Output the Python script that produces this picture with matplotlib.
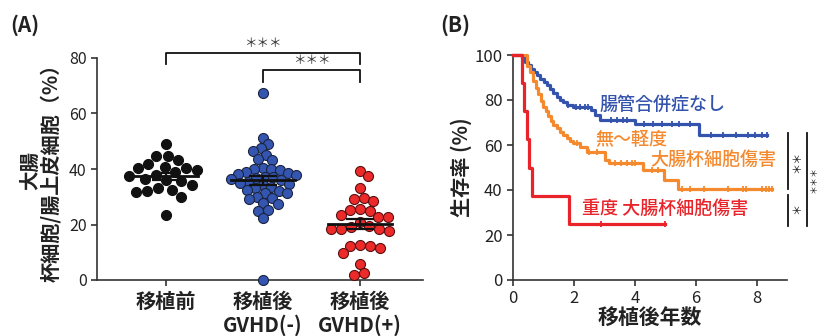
import numpy as np
import matplotlib
matplotlib.use("Agg")
import matplotlib.pyplot as plt

plt.rcParams['font.family'] = ['Noto Sans CJK JP', 'DejaVu Sans']

# ---------------- data: panel A ----------------
groups = ["移植前", "移植後\nGVHD(-)", "移植後\nGVHD(+)"]
pre_vals = [48.9, 44.8, 44.8, 43.2, 41.7, 40.8, 40.2, 40.2, 39.5, 39.0, 38.0,
            37.5, 36.5, 36.0, 35.5, 34.2, 33.0, 32.4, 32.1, 31.6, 30.0, 23.4]
gvhd_neg_vals = [67.5, 51.3, 48.9, 47.5, 46.5, 45.0, 43.5, 43.2, 40.2, 40.0,
                 39.9, 39.6, 39.0, 38.4, 38.1, 37.8, 37.2, 37.0, 36.6, 36.4,
                 36.0, 35.4, 35.0, 34.6, 34.2, 33.5, 33.0, 32.4, 32.0, 31.2,
                 31.2, 30.0, 29.5, 29.3, 27.6, 27.4, 25.2, 25.0, 22.2, 0.0]
gvhd_pos_vals = [39.4, 37.5, 33.0, 29.7, 28.5, 29.2, 25.6, 24.9, 25.2, 22.8,
                 22.6, 23.4, 20.8, 19.2, 18.4, 17.7, 18.4, 18.4, 19.6, 12.3,
                 11.7, 12.3, 12.6, 9.8, 5.7, 1.8, 2.4]
a_yticks = [0, 20, 40, 60, 80]

# ---------------- data: panel B (Kaplan-Meier steps) ----------------
blue_t = [0, 0.30, 0.40, 0.50, 0.60, 0.70, 0.80, 0.90, 1.00, 1.10, 1.20, 1.32,
          1.43, 1.54, 1.65, 1.76, 1.98, 2.55, 2.70, 2.85, 4.00, 6.10, 8.32]
blue_s = [100, 98.5, 97, 95.5, 94, 92.5, 91, 89.5, 88, 86.5, 85, 83,
          81.5, 80, 79, 78, 77, 75.5, 73.5, 71.2, 69.5, 64.4, 64.4]
blue_cens = [1.80, 2.05, 2.20, 2.35, 2.45, 3.20, 3.40, 3.60, 3.75, 4.30, 4.60,
             4.90, 5.20, 5.45, 5.80, 6.50, 6.90, 7.30, 7.70, 7.95, 8.15, 8.32]

orange_t = [0, 0.45, 0.56, 0.67, 0.75, 0.83, 0.91, 0.99, 1.08, 1.16, 1.24, 1.32,
            1.43, 1.54, 1.65, 1.76, 1.87, 1.98, 2.20, 2.42, 3.00, 3.15, 4.25,
            4.95, 5.40, 8.48]
orange_s = [100, 95, 92.5, 88.5, 85.5, 82.5, 79.5, 77, 75, 72.8, 70.8, 69,
            67.5, 66, 64.5, 63, 61.8, 60.7, 59.3, 57, 53.5, 52.2, 49.0,
            44.6, 40.5, 40.5]
orange_cens = [2.10, 2.50, 2.75, 3.35, 3.55, 3.75, 3.90, 4.00, 4.55, 4.75, 5.55,
               5.80, 6.25, 7.05, 7.55, 7.65, 8.15, 8.30, 8.40, 8.48]

red_t = [0, 0.30, 0.36, 0.45, 0.53, 0.61, 1.85, 4.98]
red_s = [100, 87.5, 75, 62.5, 50, 37.5, 25, 25]
red_cens = [2.90, 4.98]
b_xticks = [0, 2, 4, 6, 8]
b_yticks = [0, 20, 40, 60, 80, 100]

# ---------------- figure ----------------
W, H = 818, 336
fig = plt.figure(figsize=(W / 100, H / 100), dpi=100)

def px_axes(l, t, r, b):
    return fig.add_axes([l / W, (H - b) / H, (r - l) / W, (b - t) / H])

AX_COL = '#333333'
TXT_COL = '#222222'

def style(ax):
    for s in ['top', 'right']:
        ax.spines[s].set_visible(False)
    for s in ['left', 'bottom']:
        ax.spines[s].set_color(AX_COL)
        ax.spines[s].set_linewidth(1.2)
    ax.tick_params(direction='out', length=4, width=1.2, color=AX_COL,
                   labelcolor=TXT_COL)

# ---------------- panel A ----------------
axA = px_axes(97, 58, 423, 280)
style(axA)
axA.set_xlim(-0.71, 2.65)
axA.set_ylim(0, 80)
axA.set_yticks(a_yticks)
axA.set_yticklabels([str(v) for v in a_yticks], fontsize=11.5)
axA.set_xticks(range(len(groups)))
axA.set_xticklabels(groups, fontsize=14.5, fontweight='bold', linespacing=1.12)
axA.tick_params(axis='x', pad=4)

y_px_per_unit = 222 / 80.0
x_px_per_unit = 97.0

def swarm(vals, d):
    placed = []
    offs = np.zeros(len(vals))
    order = np.argsort(-np.asarray(vals))
    for i in order:
        y = vals[i] * y_px_per_unit
        cands = [0.0]
        for (px, py) in placed:
            dy = y - py
            if abs(dy) < d:
                dx = np.sqrt(d * d - dy * dy)
                cands += [px + dx, px - dx]
        cands = sorted(cands, key=abs)
        for c in cands:
            if all((c - px) ** 2 + (y - py) ** 2 >= d * d - 1e-6 for px, py in placed):
                best = c
                break
        placed.append((best, y))
        offs[i] = best / x_px_per_unit
    return offs

series = [(pre_vals, '#111111', '#111111', 11.5),
          (gvhd_neg_vals, '#3456b0', '#1b2540', 8.5),
          (gvhd_pos_vals, '#ec2a2a', '#5a1010', 10.0)]
for gi, (vals, fc, ec, d) in enumerate(series):
    vals = np.asarray(vals)
    xo = swarm(vals, d)
    axA.scatter(gi + xo, vals, s=52, facecolor=fc, edgecolor=ec, linewidth=0.8,
                zorder=3, clip_on=False)
    m = vals.mean()
    sem = vals.std(ddof=1) / np.sqrt(len(vals))
    axA.plot([gi - 0.33, gi + 0.33], [m, m], color='#111111', lw=2.0, zorder=4)
    axA.errorbar([gi], [m], yerr=[sem], color='#111111', lw=1.6, capsize=10,
                 capthick=1.6, zorder=4)

# significance brackets
axA.plot([0, 0, 2, 2], [77.8, 81.9, 81.9, 77.8], color='#111111', lw=1.3,
         clip_on=False)
axA.plot([1, 1, 2, 2], [71.4, 75.6, 75.6, 71.4], color='#111111', lw=1.3,
         clip_on=False)
axA.text(1.0, 83.0, '＊＊＊', ha='center', va='bottom', fontsize=9,
         color='#333333', clip_on=False)
axA.text(1.5, 76.6, '＊＊＊', ha='center', va='bottom', fontsize=9,
         color='#333333', clip_on=False)

# y label (two lines)
fig.text(31 / W, (H - 170) / H, '大腸', rotation=90, ha='center', va='center',
         fontsize=14, fontweight='bold', color=TXT_COL)
fig.text(51 / W, (H - 168) / H, '杯細胞/腸上皮細胞（%）', rotation=90, ha='center',
         va='center', fontsize=14.5, fontweight='bold', color=TXT_COL)

fig.text(10 / W, (H - 25) / H, '(A)', ha='left', va='center', fontsize=15,
         fontweight='bold', color=TXT_COL)

# ---------------- panel B ----------------
axB = px_axes(513, 55, 787, 280)
style(axB)
axB.set_xlim(0, 274 / 30.5)
axB.set_ylim(0, 100)
axB.set_xticks(b_xticks)
axB.set_xticklabels([str(v) for v in b_xticks], fontsize=12)
axB.set_yticks(b_yticks)
axB.set_yticklabels([str(v) for v in b_yticks], fontsize=12)
axB.set_xlabel('移植後年数', fontsize=15, fontweight='bold', color=TXT_COL,
               labelpad=0)
axB.set_ylabel('生存率 (%)', fontsize=14.5, fontweight='bold', color=TXT_COL,
               labelpad=2)

def km(ax, t, s, cens, col):
    ax.step(t, s, where='post', color=col, lw=2.3, zorder=3, clip_on=False)
    t = np.asarray(t); s = np.asarray(s)
    cs = [s[np.searchsorted(t, c, side='right') - 1] for c in cens]
    ax.plot(cens, cs, linestyle='none', marker='|', ms=5, mew=1.3, color=col,
            zorder=4, clip_on=False)

BLUE, ORANGE, RED = '#3453ad', '#f4892e', '#e8242a'
km(axB, blue_t, blue_s, blue_cens, BLUE)
km(axB, orange_t, orange_s, orange_cens, ORANGE)
km(axB, red_t, red_s, red_cens, RED)

axB.text(2.85, 77.8, '腸管合併症なし', color=BLUE, fontsize=13, ha='left',
         va='center', fontweight='medium')
axB.text(2.69, 62.2, '無～軽度', color=ORANGE, fontsize=13, ha='left',
         va='center', fontweight='medium')
axB.text(4.49, 53.6, '大腸杯細胞傷害', color=ORANGE, fontsize=13, ha='left',
         va='center', fontweight='medium')
axB.text(2.26, 31.5, '重度 大腸杯細胞傷害', color=RED, fontsize=13, ha='left',
         va='center', fontweight='medium')

# significance bars on the right (between curve end values)
b_end, o_end, r_end = blue_s[-1], orange_s[-1], red_s[-1]
x1, x2 = 9.02, 9.64
axB.plot([x1, x1], [b_end + 0.8, o_end], color='#111111', lw=1.3, clip_on=False)
axB.plot([x1, x1], [o_end - 2.6, r_end - 0.8], color='#111111', lw=1.3,
         clip_on=False)
axB.plot([x2, x2], [b_end + 0.8, r_end - 0.8], color='#111111', lw=1.3,
         clip_on=False)
axB.text((x1 + x2) / 2, (b_end + o_end) / 2, '＊＊', rotation=90, ha='center',
         va='center', fontsize=8, color='#222222', clip_on=False)
axB.text((x1 + x2) / 2, (o_end + r_end) / 2 - 1, '＊', rotation=90, ha='center',
         va='center', fontsize=8, color='#222222', clip_on=False)
axB.text(x2 + 0.22, (b_end + r_end) / 2, '＊＊＊', rotation=90, ha='center',
         va='center', fontsize=6.5, color='#222222', clip_on=False)

fig.text(440 / W, (H - 25) / H, '(B)', ha='left', va='center', fontsize=15,
         fontweight='bold', color=TXT_COL)

fig.savefig('out.png', dpi=100)
